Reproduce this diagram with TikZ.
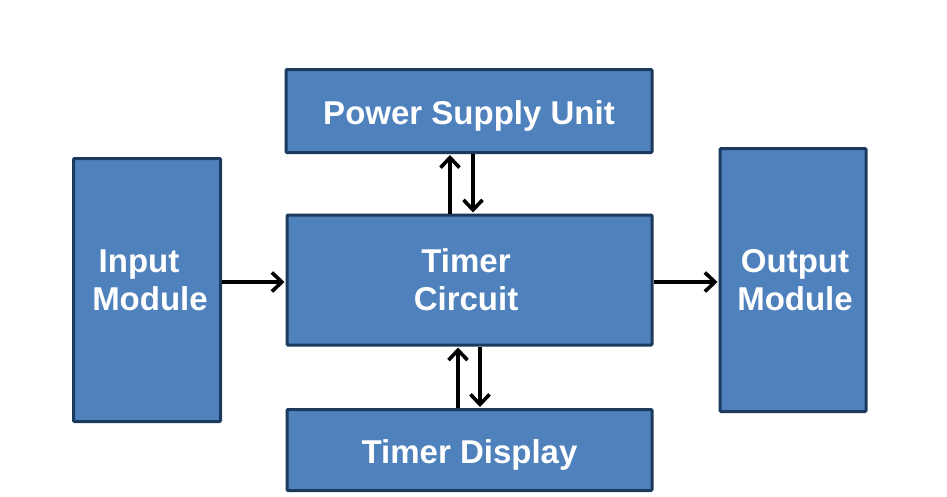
\documentclass[tikz,border=0pt]{standalone}
\usepackage{fontspec}
\setmainfont{Liberation Sans}
\usetikzlibrary{arrows.meta}
\definecolor{boxfill}{HTML}{4F81BD}
\definecolor{boxdraw}{HTML}{1B3A5E}
\tikzset{
  blk/.style={draw=boxdraw, fill=boxfill, line width=3pt, rounded corners=1pt, inner sep=0pt,
    text=white, font=\fontsize{33}{38}\selectfont\bfseries, align=center},
  oneline/.style={text height=27.6pt, text depth=0pt},
  lbl/.style={text=white, font=\fontsize{33}{38}\selectfont\bfseries, align=center, inner sep=0pt},
  conn/.style={line width=3.6pt, -{Straight Barb[length=10pt,width=19pt,line width=3.6pt]}, shorten >=1pt}
}
\begin{document}
\begin{tikzpicture}[x=1pt,y=-1pt]
\useasboundingbox (0,0) rectangle (947,496);
\node[blk, oneline, minimum width=366pt, minimum height=83pt] (psu) at (469,111) {Power Supply Unit};
\node[blk, minimum width=365pt, minimum height=130pt] (tc) at (469.5,280) {};
\node[lbl] (tcl) at (466,280) {Timer\\Circuit};
\node[blk, oneline, minimum width=365pt, minimum height=81pt] (td) at (469.5,450) {Timer Display};
\node[blk, minimum width=147pt, minimum height=263pt] (in) at (147,290) {};
\node[lbl] (inl) at (150,280) {Input\hspace*{22pt}\\Module};
\node[blk, minimum width=146pt, minimum height=263pt] (out) at (793,280) {};
\node[lbl] (outl) at (795,280) {Output\\Module};
\coordinate (a1) at (221,282);
\draw[conn] (in.east |- a1) -- (tc.west |- a1);
\draw[conn] (tc.east |- a1) -- (out.west |- a1);
\coordinate (p1) at (450,0);
\coordinate (p2) at (473,0);
\draw[conn] (tc.north -| p1) -- (psu.south -| p1);
\draw[conn] (psu.south -| p2) -- (tc.north -| p2);
\coordinate (d1) at (458,0);
\coordinate (d2) at (480,0);
\draw[conn] (td.north -| d1) -- (tc.south -| d1);
\draw[conn] (tc.south -| d2) -- (td.north -| d2);
\end{tikzpicture}
\end{document}
